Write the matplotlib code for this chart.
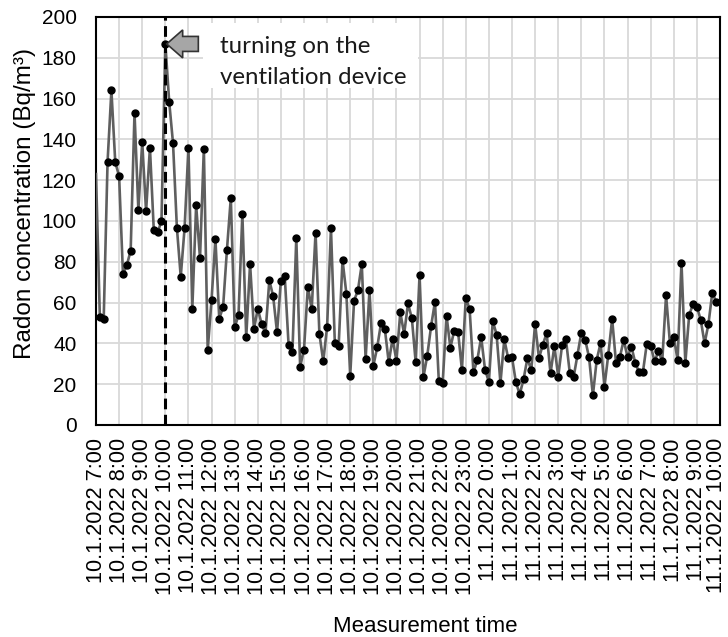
import matplotlib
matplotlib.use('Agg')
import matplotlib.pyplot as plt
import matplotlib.transforms as mtransforms
import pandas as pd
from matplotlib.patches import FancyArrow, Rectangle

# ---- data ----
start_time = '2022-01-10 07:00'
interval = '10min'
radon = [123, 52.8, 52, 129, 164, 128.8, 122, 74, 78.3, 85.5, 153, 105.4, 138.7, 104.7, 136, 95.6, 94.4, 100,
         187, 158.5, 138, 96.7, 72.7, 96.6, 136, 57, 107.7, 81.7, 135.5, 36.8, 61.3, 91.3, 52, 58, 86, 111.3,
         47.9, 53.8, 103.4, 43, 79,
         47, 57, 49.5, 45, 71, 63, 45.4, 70.7, 73, 39.2, 36, 91.7, 28.6, 37, 67.8, 56.7, 94.3, 44.6, 31.2, 48.2,
         96.4, 40.4, 38.9, 80.9, 64.4, 24.2, 61, 66, 78.8, 32.4, 66, 29, 38, 50, 46.9, 30.7, 42.3, 31.5, 55.2,
         44.6, 59.6, 52.3, 30.7, 73.5, 23.4, 34, 48.5, 60.4, 21.6, 20.4, 53.6, 37.9, 46.2, 45.7, 27, 62.4, 56.7,
         25.8, 31.9, 43.1, 27.1, 21.2, 51, 44.3, 20.6, 42, 32.8, 33.2, 21.1, 15, 22.4, 32.7, 26.8, 49.7, 32.7,
         39.4, 45, 25.3, 38.7, 23.7,
         39.2, 42, 25.6, 23.5, 34.5, 45.3, 41.8, 33.2, 14.5, 32, 40.2, 18.8, 34.5, 52, 30.5, 33.2, 41.7, 33.2,
         38.4, 30.5, 25.8, 26.1, 39.9, 38.9, 31.2, 36.1, 31.2, 63.6, 40.2, 43, 31.9, 79.6, 30.5, 53.9, 59.3, 58,
         51.5, 40, 49.5, 64.9, 60.3]
tick_start = '2022-01-10 07:00'
tick_end = '2022-01-11 10:00'
tick_labels = ['10.1.2022 7:00', '10.1.2022 8:00', '10.1.2022 9:00', '10.1.2022 10:00',
               '10.1.2022 11:00', '10.1.2022 12:00', '10.1.2022 13:00', '10.1.2022 14:00',
               '10.1.2022 15:00', '10.1.2022 16:00', '10.1.2022 17:00', '10.1.2022 18:00',
               '10.1.2022 19:00', '10.1.2022 20:00', '10.1.2022 21:00', '10.1.2022 22:00',
               '10.1.2022 23:00', '11.1.2022 0:00', '11.1.2022 1:00', '11.1.2022 2:00',
               '11.1.2022 3:00', '11.1.2022 4:00', '11.1.2022 5:00', '11.1.2022 6:00',
               '11.1.2022 7:00', '11.1.2022 8:00', '11.1.2022 9:00', '11.1.2022 10:00']
y_ticks = [0, 20, 40, 60, 80, 100, 120, 140, 160, 180, 200]
event_time = '2022-01-10 10:00'
annotation_lines = ['turning on the', 'ventilation device']

times = pd.date_range(start_time, periods=len(radon), freq=interval)
tick_times = pd.date_range(tick_start, tick_end, freq='1h')

plt.rcParams['font.family'] = ['Liberation Sans', 'DejaVu Sans']

fig = plt.figure(figsize=(7.28, 6.37), dpi=100)
ax = fig.add_axes([96 / 728, 1 - 425 / 637, 624 / 728, 408 / 637])

ax.plot(times, radon, color='#5f5f5f', lw=1.9, marker='o', ms=5.0,
        mfc='black', mec='black', markevery=list(range(1, len(radon))), zorder=3)
ax.axvline(pd.Timestamp(event_time), color='black', lw=2.2, dashes=(3.5, 1.8), zorder=4)

ax.set_xlim(tick_times[0], tick_times[-1])
ax.set_ylim(y_ticks[0], y_ticks[-1])
ax.set_yticks(y_ticks)
ax.set_xticks(tick_times)
ax.set_xticklabels(tick_labels, rotation=90, ha='center', va='top', fontsize=15.7)

ax.grid(True, color='#d9d9d9', lw=1.3)
ax.set_axisbelow(True)
for s in ax.spines.values():
    s.set_linewidth(1.5)
    s.set_color('black')
ax.tick_params(axis='both', length=0, colors='black')
ax.tick_params(axis='y', pad=14, labelsize=15)
ax.tick_params(axis='x', pad=9.5)

# keep the last rotated tick label fully inside the canvas
last_lbl = ax.get_xticklabels()[-1]
last_lbl.set_transform(last_lbl.get_transform() +
                       mtransforms.ScaledTranslation(-3 / 100, 0, fig.dpi_scale_trans))

ax.set_ylabel('Radon concentration (Bq/m³)', fontsize=17.5, va='center')
ax.yaxis.set_label_coords(-0.114, 0.543)
ax.set_xlabel('Measurement time', fontsize=16, va='center')
ax.xaxis.set_label_coords(0.527, -0.493)

# annotation box and arrow
ax.add_patch(Rectangle((0.1715, 0.826), 0.3445, 0.159, transform=ax.transAxes,
                       facecolor='white', edgecolor='none', zorder=2))
ax.text(0.1987, 0.911, annotation_lines[0], transform=ax.transAxes, fontsize=17.3,
        family=['Lato', 'DejaVu Sans'], color='#1a1a1a', va='baseline', ha='left', zorder=5)
ax.text(0.1987, 0.836, annotation_lines[1], transform=ax.transAxes, fontsize=17.3,
        family=['Lato', 'DejaVu Sans'], color='#1a1a1a', va='baseline', ha='left', zorder=5)
ax.add_patch(FancyArrow(0.164, 0.934, -0.0507, 0, width=0.0368, head_width=0.0686,
                        head_length=0.0256, length_includes_head=True,
                        transform=ax.transAxes, facecolor='#a6a6a6',
                        edgecolor='#333333', lw=1.2, zorder=5))

fig.savefig('out.png', dpi=100)
